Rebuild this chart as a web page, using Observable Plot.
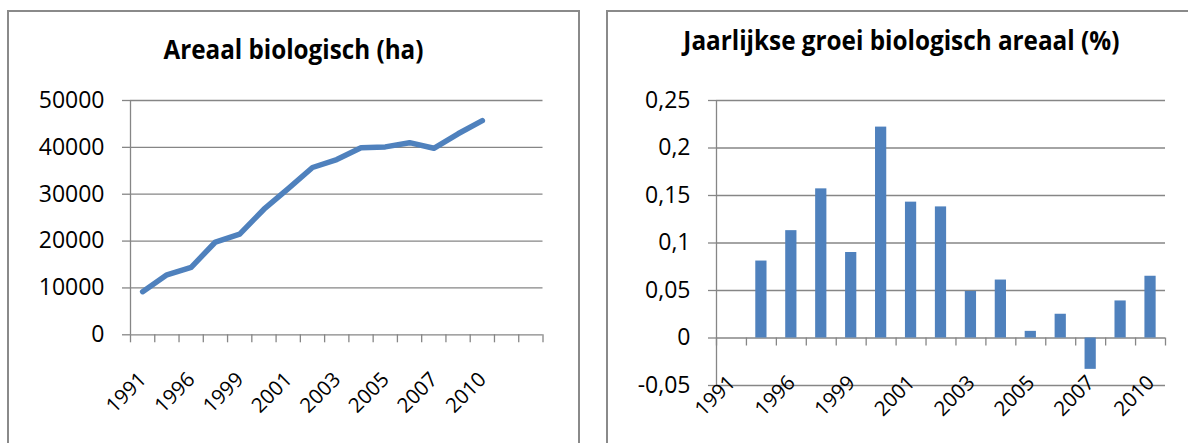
<!DOCTYPE html>
<html><head><meta charset="utf-8">
<script src="https://cdn.jsdelivr.net/npm/d3@7"></script>
<script src="https://cdn.jsdelivr.net/npm/@observablehq/plot@0.6"></script>
<style>
html,body{margin:0;padding:0;background:#fff;width:1188px;height:443px;overflow:hidden;font-family:"Open Sans",sans-serif;}
.chart{position:absolute;top:0;}
#chartL{left:0;width:590px;}
#chartR{left:590px;width:598px;}
.box{position:absolute;border:2px solid #8a8a8a;border-bottom:none;box-sizing:border-box;pointer-events:none;}
#boxL{left:7px;top:10px;width:573px;height:440px;}
#boxR{left:606px;top:10px;width:600px;height:440px;border-right:none;}
.title{position:absolute;font-family:"Open Sans",sans-serif;font-weight:700;font-size:26px;line-height:1;color:#000;white-space:nowrap;transform-origin:50% 50%;}
</style></head><body>
<div class="chart" id="chartL"></div>
<div class="chart" id="chartR"></div>
<div class="box" id="boxL"></div>
<div class="box" id="boxR"></div>
<div class="title" id="titleL">Areaal biologisch (ha)</div>
<div class="title" id="titleR">Jaarlijkse groei biologisch areaal (%)</div>
<script>
// ---- data ----
const years = ["1991","1994","1996","1998","1999","2000","2001","2002","2003","2004","2005","2006","2007","2009","2010"];
const areaHa = [9200,12800,14400,19800,21500,26800,31200,35700,37400,39900,40100,41000,39800,42900,45700];
const growthShare = [null,0.081,0.113,0.157,0.090,0.222,0.143,0.138,0.049,0.061,0.007,0.025,-0.033,0.039,0.065];
const areaTicks = [0,10000,20000,30000,40000,50000];
const growthTicks = [-0.05,0,0.05,0.1,0.15,0.2,0.25];
const emptyTrailingCategoriesLeft = 2;
const labelStep = 2;

// ---- styles ----
const GRID = "#868686";
const BLUE = "#4F81BD";
const FONT = "'Open Sans', sans-serif";

const rows = years.map((year, i) => ({i, year, area: areaHa[i], growth: growthShare[i]}));
const labelRows = rows.filter(d => d.i % labelStep === 0);

function xAxisMarks(nCats) {
  return [
    Plot.ruleX(d3.range(nCats + 1), {x: d => d, y1: () => 0, y2: () => 0, insetBottom: -8, stroke: GRID, strokeWidth: 1.3}),
    Plot.text(labelRows, {x: d => d.i + 0.5, y: () => 0, text: "year", rotate: -45, textAnchor: "end", lineAnchor: "bottom", dx: 5, dy: 46, fontSize: 20.5, fill: "#000"})
  ];
}

const nLeft = years.length + emptyTrailingCategoriesLeft;
const left = Plot.plot({
  width: 590, height: 443,
  marginLeft: 130, marginRight: 47.5, marginTop: 100, marginBottom: 108.7,
  style: {fontFamily: FONT, fontSize: "23px", background: "none", overflow: "visible"},
  x: {type: "linear", domain: [0, nLeft], axis: null},
  y: {domain: [0, 50000], label: null},
  marks: [
    Plot.gridY(areaTicks, {stroke: GRID, strokeOpacity: 1, strokeWidth: 1.3}),
    Plot.axisY(areaTicks, {tickSize: 8, tickPadding: 18, tickFormat: d => String(d), fontSize: 23, stroke: GRID, strokeWidth: 1.3, label: null}),
    Plot.ruleX([0], {stroke: GRID, strokeWidth: 1.3}),
    ...xAxisMarks(nLeft),
    Plot.line(rows, {x: d => d.i + 0.5, y: "area", stroke: BLUE, strokeWidth: 5.5, strokeLinecap: "round", strokeLinejoin: "round"})
  ]
});
document.getElementById("chartL").append(left);

const nRight = years.length;
const right = Plot.plot({
  width: 598, height: 443,
  marginLeft: 126, marginRight: 23, marginTop: 100, marginBottom: 58,
  style: {fontFamily: FONT, fontSize: "23px", background: "none", overflow: "visible"},
  x: {type: "linear", domain: [0, nRight], axis: null},
  y: {domain: [-0.05, 0.25], label: null},
  marks: [
    Plot.gridY(growthTicks, {stroke: GRID, strokeOpacity: 1, strokeWidth: 1.3}),
    Plot.axisY(growthTicks, {tickSize: 8, tickPadding: 18, tickFormat: d => String(d).replace(".", ","), fontSize: 23, stroke: GRID, strokeWidth: 1.3, label: null}),
    Plot.ruleX([0], {stroke: GRID, strokeWidth: 1.3}),
    Plot.rect(rows.filter(d => d.growth != null), {x1: d => d.i, x2: d => d.i + 1, y1: () => 0, y2: "growth", insetLeft: 9.35, insetRight: 9.35, fill: BLUE}),
    ...xAxisMarks(nRight)
  ]
});
document.getElementById("chartR").append(right);

// ---- titles: centred, narrowed to the reference's text width ----
function placeTitle(id, cx, top, targetWidth) {
  const el = document.getElementById(id);
  const w = el.getBoundingClientRect().width;
  el.style.left = (cx - w / 2) + "px";
  el.style.top = top + "px";
  el.style.transform = `scaleX(${targetWidth / w})`;
}
placeTitle("titleL", 293, 36, 260);
placeTitle("titleR", 901, 27, 436);
</script>
</body></html>
